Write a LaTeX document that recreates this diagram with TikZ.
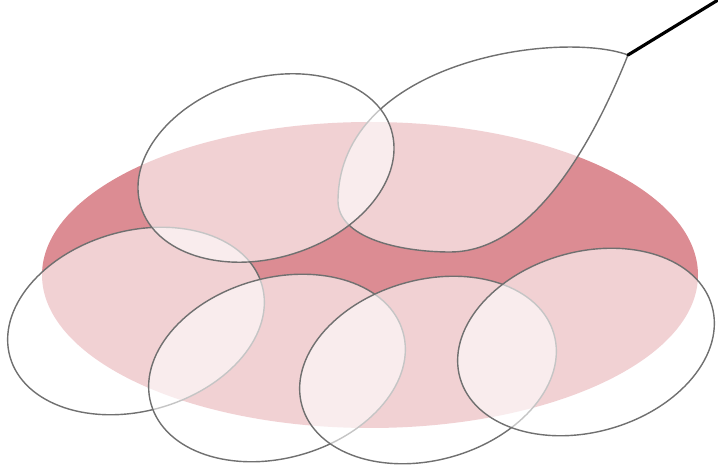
\documentclass[tikz,border=0pt]{standalone}
\definecolor{roza}{HTML}{DC8C93}
\definecolor{obrys}{HTML}{707070}
\tikzset{
  bublina/.style={draw=obrys, line width=0.8pt, fill=white, fill opacity=0.6},
}
\begin{document}
\begin{tikzpicture}[x=0.02cm, y=-0.02cm]
\useasboundingbox (0,0) rectangle (718,469);
% Velká elipsa
\fill[roza] (370,275) ellipse [x radius=328, y radius=153];
% Kapka se stonkem
\coordinate (spicka) at (628,55);
\coordinate (konec) at (718,0);
\draw[bublina] (spicka) .. controls (560,30) and (340,60) .. (338,200)
  .. controls (337,238) and (400,252) .. (450,252)
  .. controls (530,252) and (590,150) .. (spicka) -- cycle;
\draw[line width=1.8pt, line cap=round] (spicka) -- (konec);
% Spodní řada elips
\foreach \cx/\cy in {136/321, 277/368, 428/370, 586/342}
    \draw[bublina, rotate around={16:(\cx,\cy)}] (\cx,\cy) ellipse [x radius=131, y radius=90];
% Horní elipsa
\draw[bublina, rotate around={17:(266,168)}] (266,168) ellipse [x radius=131, y radius=90];
\end{tikzpicture}
\end{document}
